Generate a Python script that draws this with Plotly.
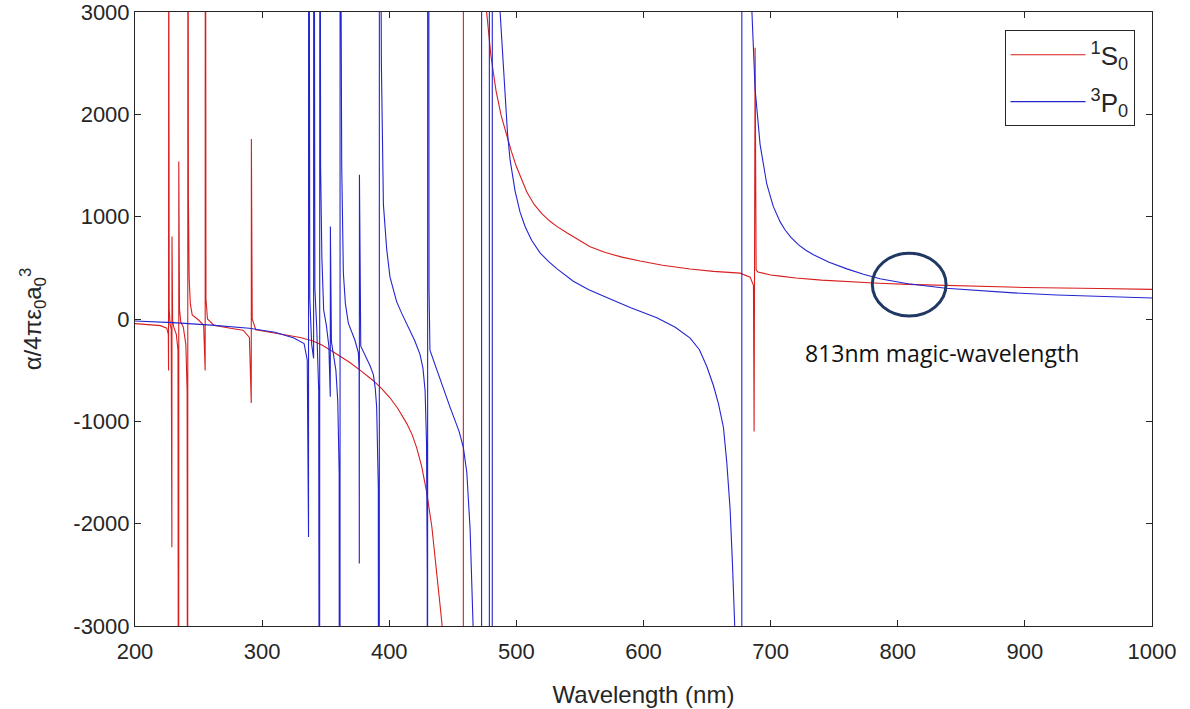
import plotly.graph_objects as go

# ---- data (wavelength in nm, polarizability in a.u.) ----
s0_wavelength = [200, 210, 220, 225, 226.2, 226.4, 226.5, 226.9, 227.6, 228.5, 229.0, 229.1, 229.6, 230.5,
                 232.5, 233.8, 234.35, 234.45, 235.0, 236.0, 238.0, 240.0, 241.0, 241.45, 241.6, 242.0,
                 242.6, 243.5, 245.0, 250.0, 254.0, 255.2, 255.35, 255.8, 257.0, 262.0, 275.0, 285.0,
                 290.0, 291.45, 291.55, 292.2, 295.0, 300.0, 310.0, 320.0, 330.0, 340.0, 347.0, 354.0,
                 361.0, 369.0, 378.0, 387.5, 394.0, 400.6, 407.0, 413.7, 418.0, 421.6, 425.5, 429.4,
                 433.5, 437.3, 440.0, 442.6, 450.0, 458.2, 458.4, 466.0, 476.6, 480.0, 484.0, 488.0,
                 492.3, 496.0, 500.0, 504.0, 508.2, 514.0, 520.0, 526.0, 531.8, 540.0, 548.0, 558.0,
                 570.0, 583.0, 597.3, 615.0, 636.7, 655.0, 676.0, 683.9, 686.5, 687.0, 687.8, 688.6,
                 690.0, 700.0, 707.5, 720.0, 740.0, 760.0, 785.0, 808.0, 850.0, 900.0, 959.0, 1000.0]
s0_alpha = [-45, -55, -65, -90, -150, -504, 5000, 100, -50, -100, -2230, 806, -20, -80,
            -150, -300, -8000, 1540, 100, -30, -80, -250, -700, -8000, 8000, 1200,
            400, 150, 40, -10, -60, -504, 8000, 200, 0, -60, -90, -110,
            -180, -820, 1760, 0, -105, -115, -135, -155, -180, -215, -255, -305,
            -360, -425, -510, -603, -680, -770, -880, -1020, -1130, -1260, -1440, -1690,
            -2030, -2450, -2800, -3120, -8000, -20000, 20000, 8000, 3000, 2570, 2230, 1990,
            1800, 1640, 1490, 1360, 1242, 1120, 1030, 960, 905, 840, 780, 706,
            650, 605, 567, 525, 488, 465, 448, 409, 330, -1100, 2650, 480,
            460, 430, 419, 400, 380, 365, 350, 338, 322, 308, 298, 290]

p0_wavelength = [200, 230, 260, 290, 310, 325, 333, 335.5, 336.5, 336.6, 337.5, 339.0, 340.5, 340.6,
                 341.5, 343.0, 344.5, 345.2, 345.4, 346.0, 347.0, 348.4, 350.5, 352.5, 353.6, 353.7,
                 354.5, 356.0, 358.0, 359.5, 360.6, 361.2, 361.4, 362.0, 362.6, 363.9, 365.5, 367.8,
                 370.5, 373.1, 375.7, 376.3, 376.45, 376.55, 377.6, 380.0, 382.2, 385.0, 387.5, 389.0,
                 390.1, 391.4, 392.1, 392.3, 393.0, 393.8, 395.4, 396.5, 398.0, 400.6, 402.5, 405.8,
                 410.0, 413.0, 416.4, 420.0, 424.2, 426.5, 428.2, 429.3, 429.9, 430.1, 430.3, 430.8,
                 431.3, 432.0, 436.0, 440.0, 444.0, 447.8, 452.0, 455.0, 458.3, 461.0, 463.6, 465.0,
                 466.2, 466.5, 472.6, 472.7, 478.7, 478.8, 481.0, 481.1, 486.5, 487.2, 489.0, 491.1,
                 493.0, 495.0, 499.0, 502.9, 507.0, 512.0, 518.6, 525.0, 532.0, 544.8, 557.0, 571.1,
                 590.0, 610.5, 625.0, 636.7, 644.0, 649.8, 655.0, 659.0, 662.9, 665.5, 668.1, 670.0,
                 672.0, 675.0, 677.3, 677.4, 680.0, 681.5, 683.9, 687.8, 691.7, 697.0, 702.0, 707.5,
                 711.4, 716.0, 722.0, 728.0, 733.7, 746.0, 760.0, 773.0, 786.0, 808.0, 838.0, 865.0,
                 891.0, 925.0, 959.0, 1000.0]
p0_alpha = [-20, -35, -60, -90, -130, -186, -240, -400, -2130, 8000, 200, -250, -385, 8000,
            300, -100, -700, -8000, 8000, 1500, 600, 90, -60, -266, -760, 905,
            -220, -330, -500, -800, -1500, -20000, 20000, 3500, 1500, 450, 150, -40,
            -130, -210, -330, -500, -2389, 1409, -266, -330, -385, -460, -544, -680,
            -861, -1655, -20000, 20000, 5000, 2500, 1120, 900, 680, 409, 320, 170,
            50, -30, -107, -210, -345, -480, -700, -1200, -2500, -20000, 20000, 2000,
            300, -305, -450, -590, -720, -861, -1000, -1100, -1258, -1500, -2052, -2600,
            -3100, -20000, -20000, 20000, 20000, -20000, -20000, 20000, 20000, 3000, 2600, 2115,
            1820, 1560, 1250, 1044, 900, 770, 647, 565, 490, 369, 285, 210,
            110, 12, -80, -187, -300, -464, -650, -830, -1060, -1400, -1853, -2400,
            -3083, -8000, -20000, 20000, 8000, 5225, 3418, 2245, 1707, 1317, 1103, 949,
            870, 797, 725, 669, 628, 555, 490, 437, 393, 345, 300, 275,
            255, 235, 220, 205]

x_ticks = [200, 300, 400, 500, 600, 700, 800, 900, 1000]
y_ticks = [-3000, -2000, -1000, 0, 1000, 2000, 3000]

axis_col = "#262626"
font_main = "Liberation Sans, Arial, sans-serif"

fig = go.Figure()
fig.add_trace(go.Scatter(x=s0_wavelength, y=s0_alpha, mode="lines", legendgroup="a",
                         line=dict(color="#d81e1e", width=1.1),
                         name="<sup>1</sup>S<sub>0</sub>"))
fig.add_trace(go.Scatter(x=p0_wavelength, y=p0_alpha, mode="lines", legendgroup="b",
                         line=dict(color="#2424d0", width=1.1),
                         name="<sup>3</sup>P<sub>0</sub>"))

axis_common = dict(showgrid=False, zeroline=False, showline=True, linecolor=axis_col, linewidth=1,
                   mirror="ticks", ticks="inside", ticklen=6, tickcolor=axis_col,
                   ticklabeloverflow="allow", automargin=False,
                   tickfont=dict(family=font_main, size=22, color=axis_col))

fig.update_xaxes(range=[200, 1000], tickvals=x_ticks, ticktext=[str(v) for v in x_ticks],
                 ticklabelstandoff=6,
                 title=dict(text="Wavelength (nm)", font=dict(family=font_main, size=24, color=axis_col),
                            standoff=22),
                 **axis_common)
fig.update_yaxes(range=[-3000.5, 3000.5], tickvals=y_ticks, ticktext=[str(v) for v in y_ticks],
                 title=dict(text="α/4πε<sub>0</sub>a<sub>0</sub><sup>3</sup>",
                            font=dict(family=font_main, size=24, color=axis_col), standoff=24),
                 **axis_common)

# magic-wavelength marker
fig.add_shape(type="circle", xref="x", yref="y", x0=780, x1=838, y0=29, y1=643,
              line=dict(color="#1F3864", width=3))
fig.add_annotation(x=835, y=-330, xref="x", yref="y", text="813nm magic-wavelength",
                   showarrow=False, font=dict(family="Open Sans, sans-serif", size=23, color="#111111"))

fig.update_layout(
    width=1190, height=709,
    margin=dict(l=135, r=38, t=12, b=83, autoexpand=False),
    paper_bgcolor="white", plot_bgcolor="white",
    legend=dict(x=0.855, y=0.97, xanchor="left", yanchor="top",
                bgcolor="white", bordercolor=axis_col, borderwidth=1,
                font=dict(family=font_main, size=26, color=axis_col),
                itemwidth=75, tracegroupgap=10),
)

fig.write_html("out.html")
